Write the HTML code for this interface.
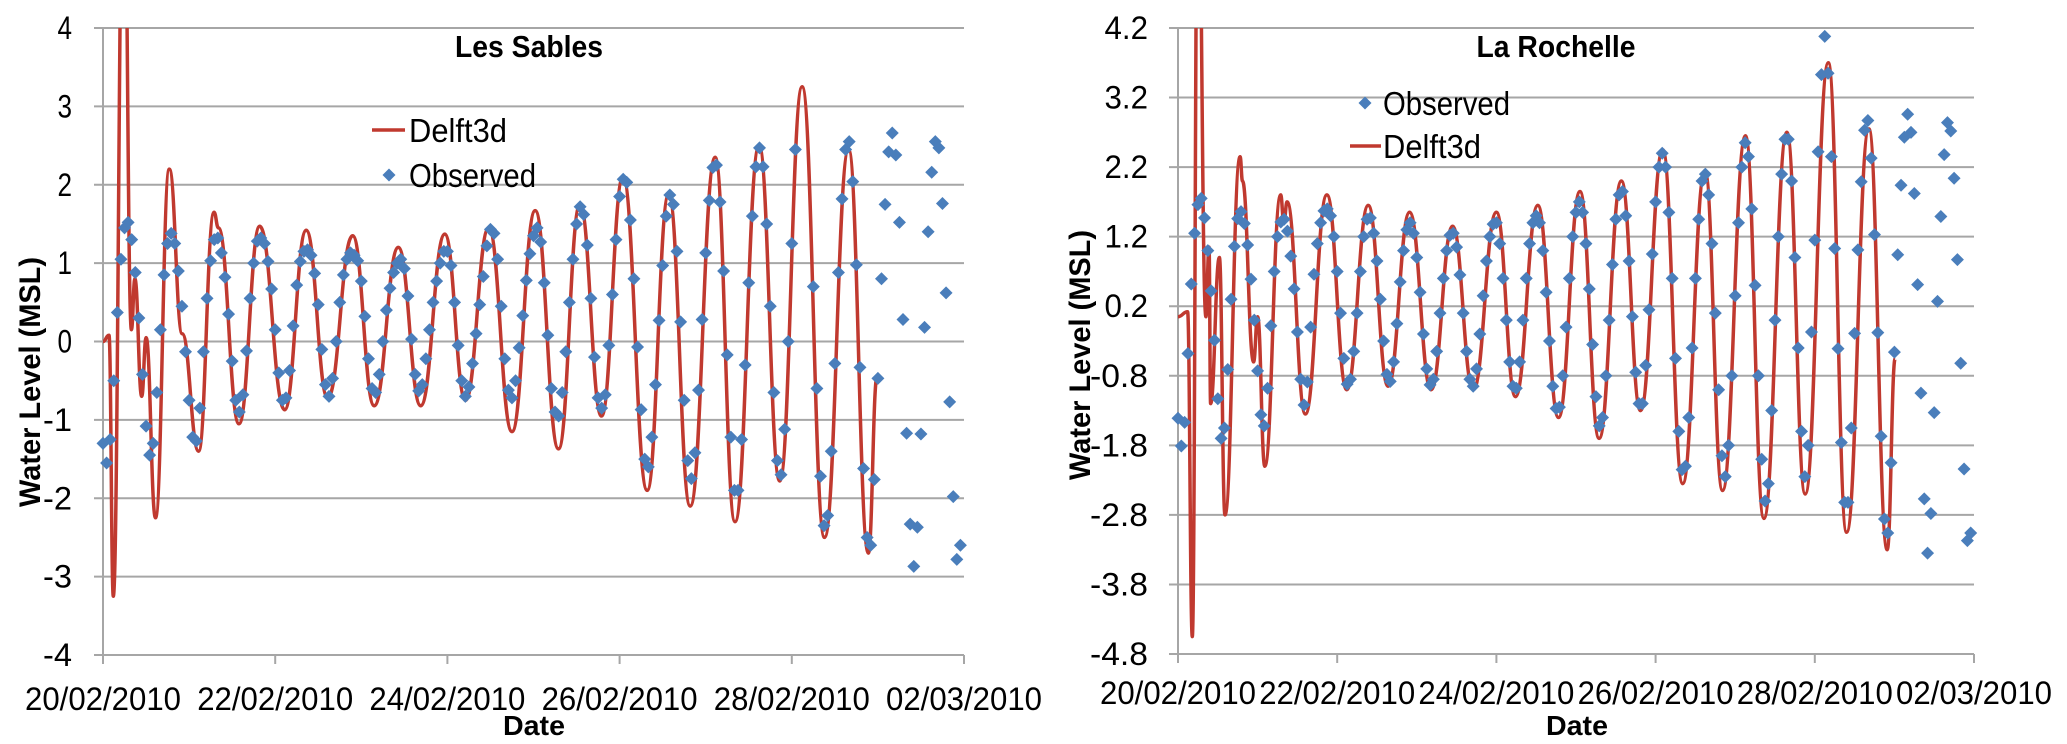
<!DOCTYPE html>
<html><head><meta charset="utf-8"><style>
html,body{margin:0;padding:0;background:#fff}
svg{display:block}
text{font-family:"Liberation Sans",sans-serif;fill:#000}
</style></head><body>
<svg id="svg" width="2067" height="744" viewBox="0 0 2067 744" xmlns="http://www.w3.org/2000/svg">
<defs>
<clipPath id="clipL"><rect x="103" y="28" width="861" height="627"/></clipPath>
<clipPath id="clipR"><rect x="1178" y="28" width="796" height="626"/></clipPath>
</defs>
<g id="left"></g>
<g id="right"></g>
</svg>
<script>
// ---- shared ----
const xTickLabels = ["20/02/2010","22/02/2010","24/02/2010","26/02/2010","28/02/2010","02/03/2010"];
const xTickDays = [0,2,4,6,8,10];

// ---- Les Sables data ----
const lsYTicks = [4,3,2,1,0,-1,-2,-3,-4];
const lsModelDays = [0,0.07,0.12,0.24,0.33,0.37,0.45,0.5,0.61,0.77,0.92,1.11,1.29,1.34,1.58,1.82,2.11,2.36,2.61,2.9,3.15,3.43,3.69,3.97,4.21,4.48,4.75,5.02,5.29,5.54,5.79,6.04,6.32,6.57,6.82,7.11,7.34,7.62,7.86,8.12,8.38,8.66,8.89,8.99];
const lsModelVals = [0,0.08,-3.25,6.5,0.15,0.8,-0.7,0.05,-2.25,2.2,0.1,-1.4,1.65,1.45,-1.05,1.47,-0.87,1.42,-0.72,1.35,-0.82,1.2,-0.82,1.37,-0.75,1.45,-1.15,1.67,-1.37,1.75,-0.95,2.1,-1.9,1.88,-2.1,2.35,-2.3,2.5,-1.78,3.25,-2.5,2.45,-2.7,-0.45];
const lsObsStart1 = 0;
const lsObs1 = [-1.3,-1.55,-1.25,-0.5,0.37,1.05,1.45,1.52,1.3,0.88,
0.3,-0.42,-1.08,-1.45,-1.3,-0.65,0.15,0.85,1.25,1.38,
1.25,0.9,0.45,-0.13,-0.75,-1.22,-1.27,-0.85,-0.13,0.55,
1.03,1.3,1.32,1.13,0.82,0.35,-0.25,-0.75,-0.9,-0.68,
-0.12,0.55,1.0,1.28,1.32,1.25,1.02,0.67,0.15,-0.4,
-0.75,-0.72,-0.37,0.2,0.72,1.02,1.15,1.17,1.1,0.87,
0.47,-0.1,-0.55,-0.7,-0.47,0.0,0.5,0.85,1.05,1.13,
1.1,1.03,0.77,0.32,-0.22,-0.6,-0.65,-0.42,0.0,0.4,
0.68,0.88,1.0,1.05,0.93,0.58,0.03,-0.42,-0.63,-0.55,
-0.22,0.15,0.5,0.77,1.0,1.15,1.15,0.97,0.5,-0.05,
-0.5,-0.7,-0.58,-0.28,0.1,0.47,0.83,1.22,1.43,1.38,
1.05,0.45,-0.22,-0.62,-0.72,-0.5,-0.08,0.33,0.78,1.12,
1.35,1.45,1.27,0.75,0.08,-0.6,-0.9,-0.95,-0.65,-0.13,
0.5,1.05,1.5,1.72,1.62,1.23,0.55,-0.2,-0.72,-0.85,
-0.68,-0.05,0.6,1.3,1.85,2.07,2.03,1.55,0.8,-0.07,
-0.87,-1.5,-1.6,-1.22,-0.55,0.27,0.97,1.6,1.87,1.75,
1.15,0.25,-0.75,-1.52,-1.75,-1.42,-0.62,0.28,1.13,1.8,
2.22,2.25,1.78,0.9,-0.17,-1.22,-1.9,-1.9,-1.25,-0.3,
0.75,1.6,2.23,2.47,2.23,1.5,0.45,-0.65,-1.52,-1.7,
-1.12,0.0,1.25,2.45];
const lsObsStart2 = 198;
const lsObs2 = [0.7,-0.6,-1.72,-2.35,-2.22,-1.4,-0.28,0.88,1.82,2.45,2.55,2.04,0.98,-0.33,-1.62,-2.5,-2.6,-1.76,-0.47,
0.8,1.75,2.42,2.66,2.38,1.52,0.28,-1.17,-2.33,-2.87,-2.37,-1.18,0.18,1.4,2.16,2.55,2.47,1.76,0.62,-0.77,-1.98,-2.78,-2.6];

// ---- La Rochelle data ----
const lrYTicks = [4.2,3.2,2.2,1.2,0.2,-0.8,-1.8,-2.8,-3.8,-4.8];
const lrModelDays = [0,0.12,0.18,0.25,0.35,0.39,0.41,0.52,0.59,0.78,0.81,0.95,1.0,1.09,1.29,1.33,1.37,1.6,1.87,2.12,2.39,2.64,2.91,3.18,3.45,3.71,4.0,4.24,4.52,4.78,5.05,5.29,5.57,5.81,6.09,6.34,6.62,6.84,7.13,7.36,7.65,7.88,8.17,8.4,8.68,8.91,9.01];
const lrModelVals = [0.05,0.12,-4.55,7,0.05,1.05,-1.2,0.9,-2.8,2.35,2.0,-0.6,0.05,-2.1,1.8,1.4,1.7,-1.35,1.8,-1.0,1.65,-0.95,1.55,-1.0,1.35,-1.0,1.55,-1.1,1.65,-1.4,1.85,-1.7,2.0,-1.3,2.45,-2.35,2.15,-2.45,2.65,-2.85,2.7,-2.5,3.7,-3.05,2.75,-3.3,-0.55];
const lrObsStart1 = 0;
const lrObs1 = [-1.41,-1.81,-1.47,-0.48,0.52,1.25,1.66,1.75,1.47,1.0,
0.42,-0.29,-1.13,-1.7,-1.55,-0.71,0.3,1.06,1.46,1.56,
1.39,1.08,0.59,0.0,-0.73,-1.36,-1.52,-0.98,-0.08,0.7,
1.2,1.41,1.45,1.28,0.92,0.45,-0.17,-0.85,-1.22,-0.89,
-0.1,0.66,1.1,1.4,1.57,1.6,1.5,1.2,0.7,0.1,
-0.55,-0.92,-0.85,-0.45,0.1,0.7,1.2,1.45,1.47,1.25,
0.85,0.3,-0.3,-0.78,-0.88,-0.6,-0.05,0.55,1.0,1.3,
1.4,1.25,0.9,0.4,-0.2,-0.7,-0.93,-0.85,-0.45,0.1,
0.6,1.0,1.22,1.25,1.05,0.65,0.1,-0.45,-0.85,-0.95,
-0.7,-0.2,0.35,0.85,1.2,1.38,1.4,1.1,0.6,0.0,
-0.6,-0.95,-0.98,-0.6,0.0,0.6,1.1,1.4,1.5,1.4,
1.0,0.4,-0.3,-0.95,-1.27,-1.25,-0.8,-0.1,0.6,1.2,
1.55,1.7,1.55,1.1,0.45,-0.35,-1.1,-1.52,-1.4,-0.8,
0.0,0.8,1.45,1.8,1.85,1.5,0.85,0.05,-0.75,-1.2,
-1.2,-0.65,0.15,0.95,1.7,2.2,2.4,2.2,1.55,0.6,
-0.55,-1.6,-2.15,-2.1,-1.4,-0.4,0.6,1.45,2.0,2.1,
1.8,1.1,0.1,-1.0,-1.95,-2.25,-1.8,-0.8,0.35,1.4,
2.2,2.55,2.35,1.6,0.5,-0.8,-2.0,-2.6,-2.35,-1.3,
0.0,1.2,2.1,2.6,2.6,2.0,0.9,-0.4,-1.6,-2.25,-1.8];
const lrObsStart2 = 191;
const lrObs2 = [-0.17,1.15,2.42,3.53,4.08,3.55,2.35,1.03,-0.41,-1.76,-2.62,-2.62,-1.55,-0.19,1.01,1.99,2.73,2.87,2.33,1.23,
-0.18,-1.67,-2.86,-3.06,-2.05,-0.46,0.94,1.94,2.63,2.96,2.7,1.82,0.51,-1.05,-2.57,-3.35,-2.78,-1.33,0.27,1.49,
2.38,2.84,2.72,2.04,0.87,-0.62,-2.14,-3.17,-3.06];

const NS = "http://www.w3.org/2000/svg";
function mk(tag, attrs, parent) {
  const e = document.createElementNS(NS, tag);
  for (const k in attrs) e.setAttribute(k, attrs[k]);
  parent.appendChild(e);
  return e;
}

function drawChart(cfg) {
  const g = document.getElementById(cfg.id);
  const sx = d => cfg.x0 + (d / 10) * (cfg.x1 - cfg.x0);
  const ymax = cfg.yTicks[0], ymin = cfg.yTicks[cfg.yTicks.length - 1];
  const sy = v => cfg.y0 + (ymax - v) / (ymax - ymin) * (cfg.y1 - cfg.y0);

  cfg.yTicks.forEach(v => {
    const y = sy(v);
    const ln = mk("line", {x1: cfg.x0 - 9, x2: cfg.x1, y1: y, y2: y, stroke: "#a6a6a6", "stroke-width": 2}, g);
    
    
    const s = String(v);
    const t = mk("text", {x: cfg.yLabelX, y: y + 11, "text-anchor": "end", "font-size": 32, textLength: s.length * 14.5, lengthAdjust: "spacingAndGlyphs"}, g);
    t.textContent = s;
    
    
  });
  const ax = mk("line", {x1: cfg.x0, x2: cfg.x0, y1: cfg.y0, y2: cfg.y1, stroke: "#a6a6a6", "stroke-width": 2}, g);
  
  
  xTickDays.forEach((d, i) => {
    const x = sx(d);
    const tk = mk("line", {x1: x, x2: x, y1: cfg.y1, y2: cfg.y1 + 9, stroke: "#a6a6a6", "stroke-width": 2}, g);
    
    
    const t = mk("text", {x: x, y: cfg.xLabelY, "text-anchor": "middle", "font-size": 32, textLength: 156, lengthAdjust: "spacingAndGlyphs"}, g);
    t.textContent = xTickLabels[i];
    
    
  });

  let d = "M" + sx(cfg.mDays[0]).toFixed(1) + "," + sy(cfg.mVals[0]).toFixed(1);
  for (let i = 1; i < cfg.mDays.length; i++) {
    const xa = sx(cfg.mDays[i - 1]), ya = sy(cfg.mVals[i - 1]);
    const xb = sx(cfg.mDays[i]), yb = sy(cfg.mVals[i]);
    const dx = (xb - xa) / 2.2;
    d += " C" + (xa + dx).toFixed(1) + "," + ya.toFixed(1) + " " + (xb - dx).toFixed(1) + "," + yb.toFixed(1) + " " + xb.toFixed(1) + "," + yb.toFixed(1);
  }
  const p = mk("path", {d: d, fill: "none", stroke: "#c0392f", "stroke-width": 3.5, "clip-path": "url(#" + cfg.clip + ")", "stroke-linejoin": "round"}, g);
  
  

  const og = mk("g", {}, g);
  
  
  const segs = [[cfg.o1Start, cfg.o1], [cfg.o2Start, cfg.o2]];
  segs.forEach(([st, arr]) => {
    arr.forEach((v, i) => {
      if (v === null) return;
      const x = sx((st + i) / 24), y = sy(v);
      const r = 6.5;
      const dm = mk("path", {d: `M${x},${y - r}L${x + r},${y}L${x},${y + r}L${x - r},${y}Z`, fill: "#4a7ebb"}, og);
      
      
    });
  });

  const tt = mk("text", {x: cfg.titleX, y: 57, "text-anchor": "middle", "font-size": 31, "font-weight": "bold", textLength: cfg.titleW, lengthAdjust: "spacingAndGlyphs"}, g);
  tt.textContent = cfg.title;
  
  
  const yt = mk("text", {x: 0, y: 0, "text-anchor": "middle", "font-size": 30, "font-weight": "bold", textLength: 250, lengthAdjust: "spacingAndGlyphs", transform: `translate(${cfg.yTitleX},${cfg.yTitleY}) rotate(-90)`}, g);
  yt.textContent = "Water Level (MSL)";
  
  
  const xt = mk("text", {x: cfg.xTitleX, y: 735, "text-anchor": "middle", "font-size": 28, "font-weight": "bold", textLength: 62, lengthAdjust: "spacingAndGlyphs"}, g);
  xt.textContent = "Date";
  
  

  const lg = mk("g", {}, g);
  
  
  const L = cfg.legend;
  const ll = mk("line", {x1: L.lineX1, x2: L.lineX2, y1: L.lineY, y2: L.lineY, stroke: "#c0392f", "stroke-width": 3.5}, lg);
  
  
  const lt = mk("text", {x: L.textX, y: L.lineY + 12, "font-size": 33, textLength: 98, lengthAdjust: "spacingAndGlyphs"}, lg);
  lt.textContent = "Delft3d";
  
  
  const r = 6.5, dx = L.diaX, dy = L.diaY;
  const ld = mk("path", {d: `M${dx},${dy - r}L${dx + r},${dy}L${dx},${dy + r}L${dx - r},${dy}Z`, fill: "#4a7ebb"}, lg);
  
  
  const ot = mk("text", {x: L.textX, y: dy + 12, "font-size": 33, textLength: 127, lengthAdjust: "spacingAndGlyphs"}, lg);
  ot.textContent = "Observed";
  
  
}

drawChart({id: "left", clip: "clipL", x0: 103, x1: 964, y0: 28, y1: 655,
  yTicks: lsYTicks, yLabelX: 72, xLabelY: 710, mDays: lsModelDays, mVals: lsModelVals,
  o1Start: lsObsStart1, o1: lsObs1, o2Start: lsObsStart2, o2: lsObs2,
  title: "Les Sables", titleX: 529, titleW: 148, yTitleX: 40, yTitleY: 382, xTitleX: 534,
  legend: {lineX1: 372, lineX2: 405, lineY: 130, textX: 409, diaX: 389, diaY: 175}});
drawChart({id: "right", clip: "clipR", x0: 1178, x1: 1974, y0: 28, y1: 654,
  yTicks: lrYTicks, yLabelX: 1148, xLabelY: 704, mDays: lrModelDays, mVals: lrModelVals,
  o1Start: lrObsStart1, o1: lrObs1, o2Start: lrObsStart2, o2: lrObs2,
  title: "La Rochelle", titleX: 1556, titleW: 159, yTitleX: 1090, yTitleY: 355, xTitleX: 1577,
  legend: {lineX1: 1350, lineX2: 1381, lineY: 146, textX: 1383, diaX: 1365, diaY: 103}});
</script>
</body></html>
